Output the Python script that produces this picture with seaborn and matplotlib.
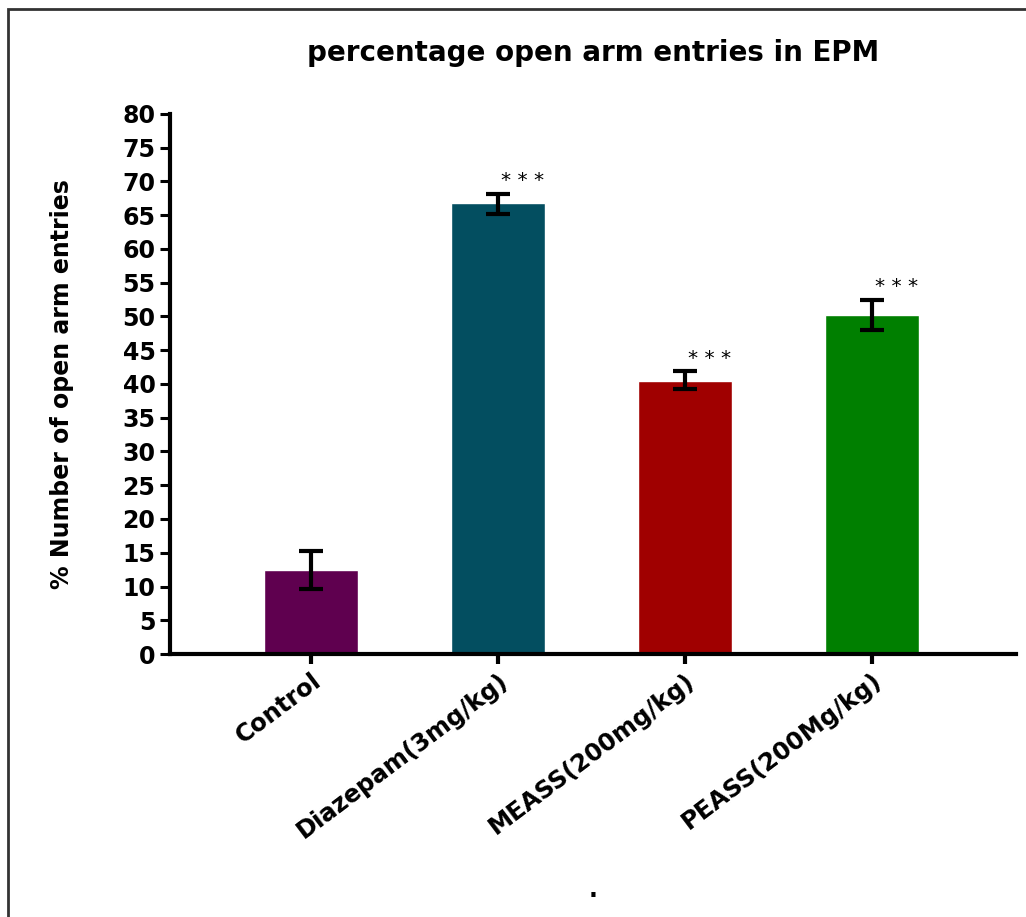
import pandas as pd
import seaborn as sns
import matplotlib.pyplot as plt
from matplotlib.patches import Rectangle

groups = ['Control', 'Diazepam(3mg/kg)', 'MEASS(200mg/kg)', 'PEASS(200Mg/kg)']
means = [12.4, 66.8, 40.5, 50.2]
err_low = [9.6, 65.2, 39.2, 48.0]
err_high = [15.2, 68.2, 41.9, 52.5]
stars = ['', '* * *', '* * *', '* * *']
colors = ['#5f004f', '#034e60', '#a00000', '#007f00']

df = pd.DataFrame({'group': groups, 'mean': means})

sns.set_style('ticks')
plt.rcParams['font.family'] = ['DejaVu Sans']
plt.rcParams['text.color'] = 'black'
plt.rcParams['axes.labelcolor'] = 'black'
plt.rcParams['xtick.color'] = 'black'
plt.rcParams['ytick.color'] = 'black'
plt.rcParams['axes.edgecolor'] = 'black'

fig = plt.figure(figsize=(10.26, 9.17), dpi=100)
ax = fig.add_axes([0.1657, 0.2868, 0.8245, 0.5889])

sns.barplot(data=df, x='group', y='mean', hue='group', palette=colors,
            width=0.5, errorbar=None, legend=False, ax=ax, saturation=1)

# SEM bars
x = list(range(len(groups)))
lower = [m - l for m, l in zip(means, err_low)]
upper = [h - m for m, h in zip(means, err_high)]
ax.errorbar(x, means, yerr=[lower, upper], fmt='none', ecolor='black',
            elinewidth=3, capsize=8.5, capthick=3)

for i, s in enumerate(stars):
    if s:
        ax.text(i + 0.13, err_high[i] + 0.5, s, ha='center', va='bottom',
                fontsize=14.5)

ax.set_ylim(0, 80)
ax.set_xlim(-0.754, 3.77)
ax.set_yticks(range(0, 81, 5))
ax.set_title('percentage open arm entries in EPM', fontsize=20,
             fontweight='bold', pad=38)
ax.set_ylabel('% Number of open arm entries', fontsize=17, fontweight='bold',
              labelpad=35)
ax.set_xlabel('.', fontsize=17, fontweight='bold', labelpad=25)
ax.tick_params(axis='both', width=2.2, length=7, labelsize=17)
ax.tick_params(axis='x', width=3, labelsize=17.5)
for lab in ax.get_yticklabels():
    lab.set_fontweight('bold')
for lab in ax.get_xticklabels():
    lab.set_fontweight('bold')
    lab.set_rotation(37)
    lab.set_ha('right')
    lab.set_rotation_mode('anchor')
sns.despine(ax=ax)
for side in ['left', 'bottom']:
    ax.spines[side].set_linewidth(3)

# outer frame
fig.patches.append(Rectangle((0.008, -0.1), 1.2, 1.09, transform=fig.transFigure,
                             fill=False, edgecolor='#333333', linewidth=2))

fig.savefig('out.png', dpi=100)
